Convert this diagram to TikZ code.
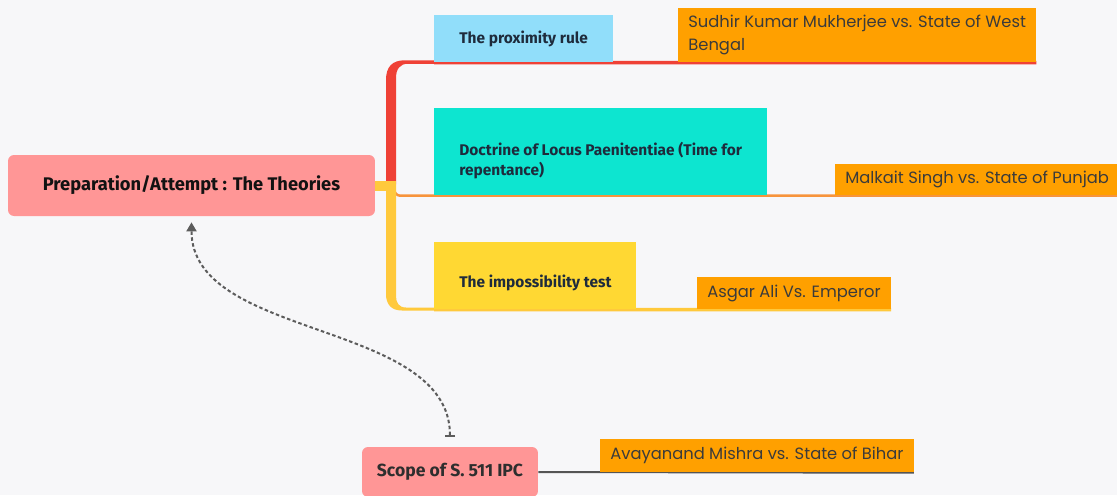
\documentclass[tikz,border=0pt]{standalone}
\usepackage{fontspec}
\setmainfont{Fira Sans}
\newfontfamily\casefont{Poppins}
\usetikzlibrary{arrows.meta,calc}
\pgfdeclarelayer{bg}
\pgfdeclarelayer{links}
\pgfsetlayers{bg,links,main}
\definecolor{bgcol}{HTML}{F7F7F9}
\definecolor{rootfill}{HTML}{FF9696}
\definecolor{redbr}{HTML}{EF4136}
\definecolor{orangebr}{HTML}{F7943C}
\definecolor{yellowbr}{HTML}{FFC93C}
\definecolor{proxfill}{HTML}{91DEFA}
\definecolor{locusfill}{HTML}{0DE5D0}
\definecolor{impfill}{HTML}{FFD833}
\definecolor{casefill}{HTML}{FFA000}
\definecolor{topictext}{HTML}{1E2B3C}
\definecolor{casetext}{HTML}{3B3B3B}
\definecolor{greyln}{HTML}{555555}
\definecolor{depgrey}{HTML}{5C5C5C}
\begin{document}
\begin{tikzpicture}[x=0.02cm, y=-0.02cm,
    theme/.style={fill=rootfill, rounded corners=0.12cm, text=black!93,
                  font=\bfseries\fontsize{10.4}{12}\selectfont},
    topic/.style={anchor=north west, inner xsep=0.5cm, inner ysep=0pt,
                  align=left, text=topictext,
                  font=\bfseries\fontsize{8.8}{11.5}\selectfont},
    case/.style={anchor=north west, fill=casefill, inner xsep=0.2cm,
                 inner ysep=0pt, align=left, text=casetext,
                 font=\casefont\fontsize{9.3}{13}\selectfont},
    link/.style={line width=0.07cm},
    dep/.style={draw=depgrey, line width=0.04cm,
                dash pattern=on 0.07cm off 0.05cm,
                arrows={{Bar[width=0.2cm]}-{Triangle[length=0.18cm,width=0.2cm]}}}
  ]
  \useasboundingbox (0,0) rectangle (1117,495);
  \begin{pgfonlayer}{bg}
    \fill[bgcol] (0,0) rectangle (1117,495);
  \end{pgfonlayer}
  % Central topics
  \node[theme, minimum width=7.34cm, minimum height=1.22cm] (root) at (191.5,185.5)
    {Preparation/Attempt : The Theories};
  \node[theme, minimum width=3.52cm, minimum height=1.0cm, text=black!82,
        font=\bfseries\fontsize{10}{12}\selectfont] (scope) at (450,472)
    {Scope of S. 511 IPC};
  \coordinate (fork) at ($(root.east)+(16,0)$);
  % Theories
  \node[topic, fill=proxfill, minimum height=0.94cm] (proximity) at (434,15)
    {The proximity rule};
  \node[topic, fill=locusfill, minimum height=1.74cm] (locus) at (434,108)
    {\rule{0pt}{0.6cm}Doctrine of Locus Paenitentiae (Time for\\repentance)};
  \node[topic, fill=impfill, minimum height=1.34cm] (impossible) at (434,242)
    {\rule{0pt}{0.53cm}The impossibility test};
  % Cases
  \node[case, minimum height=1.08cm] (sudhir) at (678,8)
    {Sudhir Kumar Mukherjee vs. State of West\\Bengal};
  \node[case, minimum height=0.62cm] (malkait) at (835,164)
    {Malkait Singh vs. State of Punjab};
  \node[case, minimum height=0.64cm] (asgar) at (697,277)
    {Asgar Ali Vs. Emperor};
  \node[case, minimum height=0.66cm] (avayanand) at (600,439)
    {Avayanand Mishra vs. State of Bihar};
  % Branches
  \begin{pgfonlayer}{links}
    \draw[orangebr, line width=0.05cm, rounded corners=0.12cm]
      ($(fork)+(3,0)$) |- (locus.south west);
    \draw[orangebr, line width=0.05cm] (locus.south west) -- (malkait.south east);
    \fill[yellowbr] (386,184) -- (386,294) .. controls (386,304) and (391,310.5) .. (402,310.5)
      -- (436,310.5) -- (436,307.5) -- (406,307.5) .. controls (399,307.5) and (396,303) .. (396,296)
      -- (396,184) -- cycle;
    \draw[yellowbr, link] (impossible.south west) -- (asgar.south east);
    \fill[redbr] (386,184) -- (386,80) .. controls (386,67) and (392,60.25) .. (405,60.25)
      -- (436,60.25) -- (436,63.75) -- (408,63.75) .. controls (400,63.75) and (396,69) .. (396,78)
      -- (396,184) -- cycle;
    \draw[redbr, link] (proximity.south west) -- (sudhir.south east);
    \draw[yellowbr, line width=0.2cm] (root.east) -- ($(fork)+(5,0)$);
    \draw[greyln, line width=0.04cm] (scope.east) -- (avayanand.south east);
  \end{pgfonlayer}
  % Dependency
  \draw[dep] ([yshift=0.2cm]scope.north) .. controls +(0,-117) and +(0,118) .. ([yshift=-0.12cm]root.south);
\end{tikzpicture}
\end{document}
